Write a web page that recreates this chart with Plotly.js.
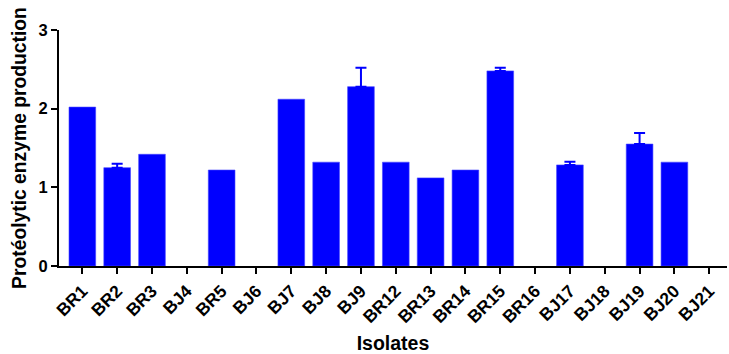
<!DOCTYPE html>
<html>
<head>
<meta charset="utf-8">
<script src="https://cdn.plot.ly/plotly-3.0.1.min.js"></script>
<style>html,body{margin:0;padding:0;background:#fff;}#chart{width:729px;height:354px;}</style>
</head>
<body>
<div id="chart"></div>
<script>
const isolates = ["BR1","BR2","BR3","BJ4","BR5","BJ6","BJ7","BJ8","BJ9","BR12","BR13","BR14","BR15","BR16","BJ17","BJ18","BJ19","BJ20","BJ21"];
const production = [2.02, 1.25, 1.42, 0, 1.22, 0, 2.12, 1.32, 2.28, 1.32, 1.12, 1.22, 2.48, 0, 1.285, 0, 1.55, 1.32, 0];
const errorUp = [null, 0.05, null, null, null, null, null, null, 0.24, null, null, null, 0.04, null, 0.04, null, 0.14, null, null];

const errorDown = errorUp.map(v => (v === null ? null : 0));
const lineWidths = production.map(v => (v > 0 ? 0.6 : 0));

const font = "Liberation Sans, Arial, sans-serif";
const trace = {
  type: "bar",
  x: isolates,
  y: production,
  marker: {color: "#0000ff", line: {color: "#4444ff", width: lineWidths}},
  error_y: {type: "data", symmetric: false, array: errorUp.map(v => v === null ? NaN : v), arrayminus: errorDown.map(v => v === null ? NaN : v), color: "#0000ff", thickness: 2, width: 5.5},
  hoverinfo: "x+y"
};
const layout = {
  width: 729, height: 354,
  margin: {l: 59, r: 2, t: 30, b: 88},
  paper_bgcolor: "#fff", plot_bgcolor: "#fff",
  bargap: 0.234,
  showlegend: false,
  font: {family: font, color: "#000"},
  xaxis: {
    type: "category",
    range: [-0.67, 18.51],
    showline: true, linecolor: "#000", linewidth: 2,
    ticks: "outside", ticklen: 6, tickwidth: 2, tickcolor: "#000",
    tickangle: -45,
    tickfont: {family: font, size: 17.5, color: "#000", weight: "bold"},
    showgrid: false, zeroline: false,
    title: {text: "<b>Isolates</b>", font: {family: font, size: 19.5, color: "#000"}, standoff: 10}
  },
  yaxis: {
    range: [0, 3], dtick: 1,
    showline: true, linecolor: "#000", linewidth: 2,
    ticks: "outside", ticklen: 6, tickwidth: 2, tickcolor: "#000",
    tickfont: {family: font, size: 16.5, color: "#000", weight: "bold"},
    showgrid: false, zeroline: false,
    title: {text: "<b>Protéolytic enzyme production</b>", font: {family: font, size: 19.3, color: "#000"}, standoff: 7}
  }
};
Plotly.newPlot("chart", [trace], layout, {displayModeBar: false, staticPlot: true});
</script>
</body>
</html>
